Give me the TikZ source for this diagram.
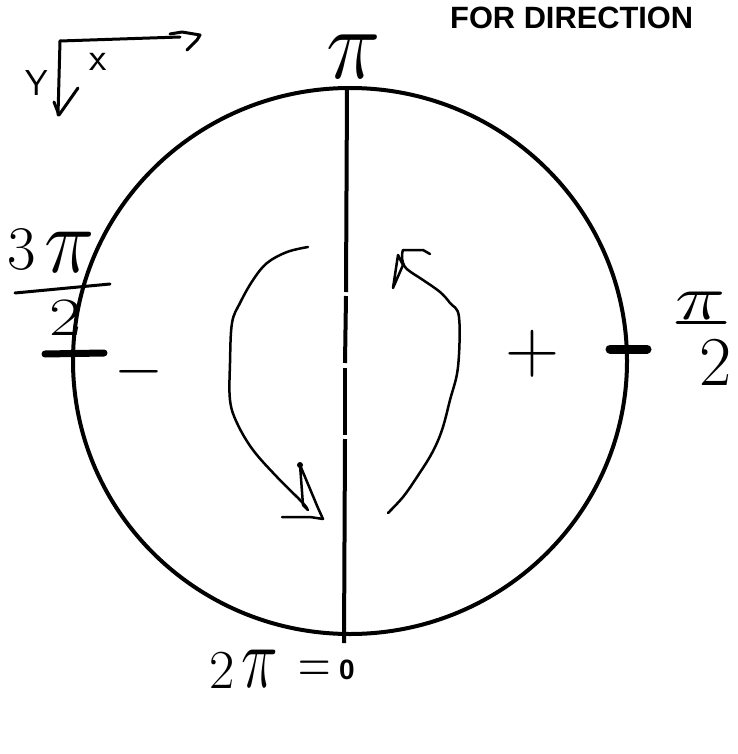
\RequirePackage{fix-cm}
\documentclass[tikz,border=0pt]{standalone}
\usepackage{fontspec}
\newfontfamily\boldsans{Liberation Sans}
\begin{document}
\begin{tikzpicture}[x=1pt,y=-1pt,
  pen/.style={line width=3pt,line cap=round,line join=round},
  thinpen/.style={line width=2.5pt,line cap=round,line join=round},
  hand/.style={inner sep=3pt,anchor=center}]
\useasboundingbox (0,0) rectangle (737,754);
\fill[white] (0,0) rectangle (737,754);
% title
\node[inner sep=0pt,anchor=base west] (title) at (450,29)
  {\boldsans\bfseries\fontsize{30.8}{34}\selectfont FOR DIRECTION};
% axes sketch
\coordinate (o) at (60,41);
\draw[pen] (o) -- (180,37);
\draw[pen] (170,34) -- (182,32) -- (200,35) -- (197,40) -- (187,50);
\draw[pen] (o) -- (58,115);
\draw[pen] (54,102) -- (59,115) -- (78,88);
\node[hand] (ylab) at (37,83) {\sffamily\fontsize{36}{36}\selectfont Y};
\node[hand] (xlab) at (98,62) {\sffamily\fontsize{40}{40}\selectfont x};
% circle
\draw[line width=4pt] (350,361) ellipse [x radius=277pt, y radius=273pt];
% vertical line with small gaps
\draw[line width=4pt] (347,88) -- (346,292);
\draw[line width=4pt] (346,296) -- (345,363);
\draw[line width=4pt] (345,368) -- (345,435);
\draw[line width=4pt] (345,439) -- (344,643);
% top pi
\node[hand,yscale=1.1] (pitop) at (354,57) {\fontsize{92}{92}\selectfont$\pi$};
% left 3pi/2
\node[hand] (three) at (22,250) {\fontsize{62}{62}\selectfont 3};
\node[hand,yscale=1.1] (pileft) at (70,252) {\fontsize{85}{85}\selectfont$\pi$};
\draw[pen] (15,293) -- (110,284);
\node[hand,xscale=1.3] (twoleft) at (66,318) {\fontsize{54}{54}\selectfont 2};
\draw[line width=7pt,line cap=round] (45,354) -- (104,353);
\node[hand] (minus) at (139,372) {\fontsize{63}{63}\selectfont$-$};
% right pi/2
\draw[line width=9pt,line cap=round] (610,349) -- (647,349);
\node[hand,yscale=0.75] (piright) at (701,306) {\fontsize{85}{85}\selectfont$\pi$};
\draw[pen] (677,322) -- (725,322);
\node[hand] (tworight) at (716,362) {\fontsize{70}{70}\selectfont 2};
\node[hand] (plus) at (532,354) {\fontsize{75}{75}\selectfont$+$};
% bottom 2pi = 0
\node[hand] (twobot) at (222,670) {\fontsize{55}{55}\selectfont 2};
\node[hand,yscale=1.4] (pibot) at (260,669) {\fontsize{62}{62}\selectfont$\pi$};
\node[hand,yscale=1.4] (eq) at (315,672) {\fontsize{45}{45}\selectfont$=$};
\node[hand] (zero) at (347,670) {\boldsans\bfseries\fontsize{28}{28}\selectfont 0};
% left curved arrow
\draw[thinpen] plot[smooth,tension=0.6] coordinates {(308,247) (287,252) (267,263) (253,280) (240,303) (232,323) (230,363) (230,400) (237,423) (253,450) (277,477) (300,500) (307,508)};
\draw[thinpen] (282,517) -- (310,517) -- (323,519) -- (318,508) -- (300,465) -- (303,505) -- (308,510);
\fill (300,465) circle (3pt);
% right curved arrow
\draw[thinpen] plot[smooth,tension=0.6] coordinates {(388,513) (403,497) (417,477) (432,453) (442,430) (450,400) (458,367) (459,317) (450,303) (440,292) (423,280) (408,270) (403,263) (402,255) (403,250)};
\draw[thinpen] (393,288) -- (398,255) -- (403,265) -- cycle;
\draw[thinpen] (403,250) -- (423,250) -- (430,254);
\end{tikzpicture}
\end{document}
